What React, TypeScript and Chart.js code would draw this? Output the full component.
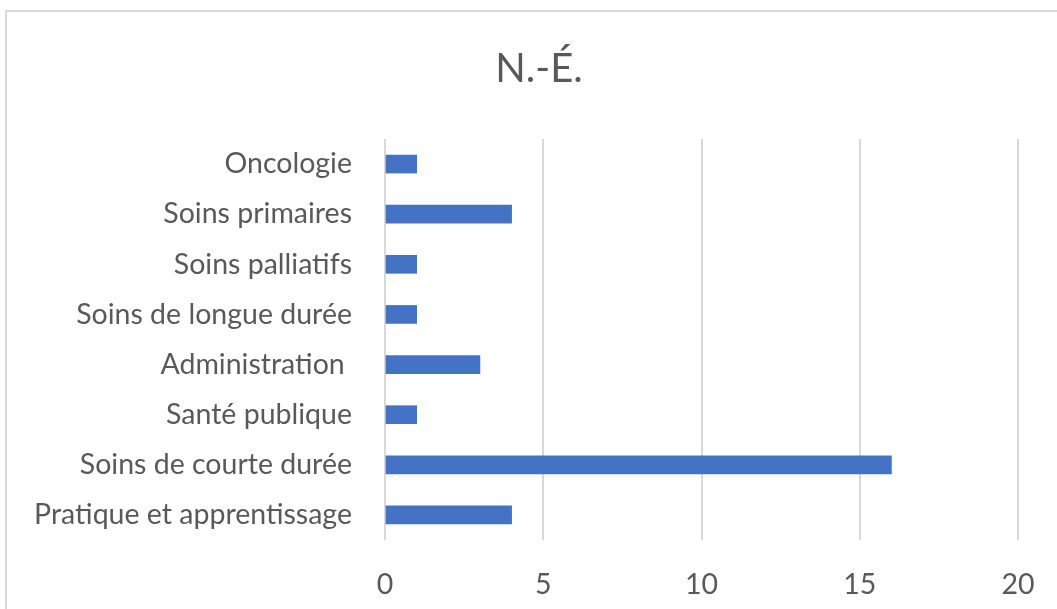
import React, { useEffect, useRef } from "react";
import { Chart, registerables } from "chart.js";

Chart.register(...registerables);

const categories = [
  "Oncologie",
  "Soins primaires",
  "Soins palliatifs",
  "Soins de longue durée",
  "Administration ",
  "Santé publique",
  "Soins de courte durée",
  "Pratique et apprentissage",
];
const values = [1, 4, 1, 1, 3, 1, 16, 4];
const chartTitle = "N.-É.";
const xMin = 0;
const xMax = 20;
const xStep = 5;

const FONT = "Lato, 'Open Sans', sans-serif";
const TEXT = "#595959";
const GRID = "#d9d9d9";
const W = 1057;
const H = 609;
const CH = 660; // canvas taller than frame, clipped
const LABEL_SIZE = 28.5;
const TICK_PAD = 28;
const PLOT_TOP = 139;
const PLOT_BOTTOM = 540;
const PLOT_RIGHT = 1018;

const titlePlugin = {
  id: "centeredTitle",
  afterDraw(chart: any) {
    const ctx = chart.ctx;
    ctx.save();
    ctx.fillStyle = TEXT;
    ctx.font = `normal 40px ${FONT}`;
    ctx.textAlign = "center";
    ctx.textBaseline = "middle";
    ctx.fillText(chartTitle, 539, 69);
    ctx.restore();
  },
};

export default function App() {
  const ref = useRef<HTMLCanvasElement>(null);
  useEffect(() => {
    const chart = new Chart(ref.current!, {
      type: "bar",
      data: {
        labels: categories,
        datasets: [
          {
            data: values,
            backgroundColor: "#4472C4",
            borderWidth: 0,
            barThickness: 18,
          },
        ],
      },
      options: {
        indexAxis: "y",
        animation: false,
        responsive: false,
        maintainAspectRatio: false,
        layout: {
          padding: {
            left: 0,
            right: W - PLOT_RIGHT,
            top: PLOT_TOP,
            bottom: CH - PLOT_BOTTOM - 2 * TICK_PAD - LABEL_SIZE * 1.2,
          },
        },
        plugins: {
          legend: { display: false },
          tooltip: { enabled: false },
          title: { display: false },
        },
        scales: {
          x: {
            min: xMin,
            max: xMax,
            afterFit: (s: any) => {
              s.paddingRight = 0;
              s.paddingLeft = 0;
            },
            ticks: {
              stepSize: xStep,
              color: TEXT,
              font: { family: FONT, size: LABEL_SIZE },
              padding: TICK_PAD,
            },
            grid: { color: GRID, lineWidth: 2, drawTicks: false },
            border: { display: false },
          },
          y: {
            afterFit: (s: any) => {
              s.width = 385;
            },
            ticks: {
              color: TEXT,
              font: { family: FONT, size: LABEL_SIZE },
              padding: 33,
            },
            grid: { display: false, drawTicks: false },
            border: { display: false },
          },
        },
      },
      plugins: [titlePlugin],
    });
    return () => chart.destroy();
  }, []);

  return (
    <div
      style={{
        position: "fixed",
        left: 0,
        top: 0,
        width: W,
        height: H,
        overflow: "hidden",
        background: "#fff",
      }}
    >
      <div
        style={{
          position: "absolute",
          left: 5,
          top: 10,
          width: 1100,
          height: 700,
          border: `2px solid ${GRID}`,
        }}
      />
      <canvas
        ref={ref}
        width={W}
        height={CH}
        style={{ position: "absolute", left: 0, top: 0, width: W, height: CH }}
      />
    </div>
  );
}
